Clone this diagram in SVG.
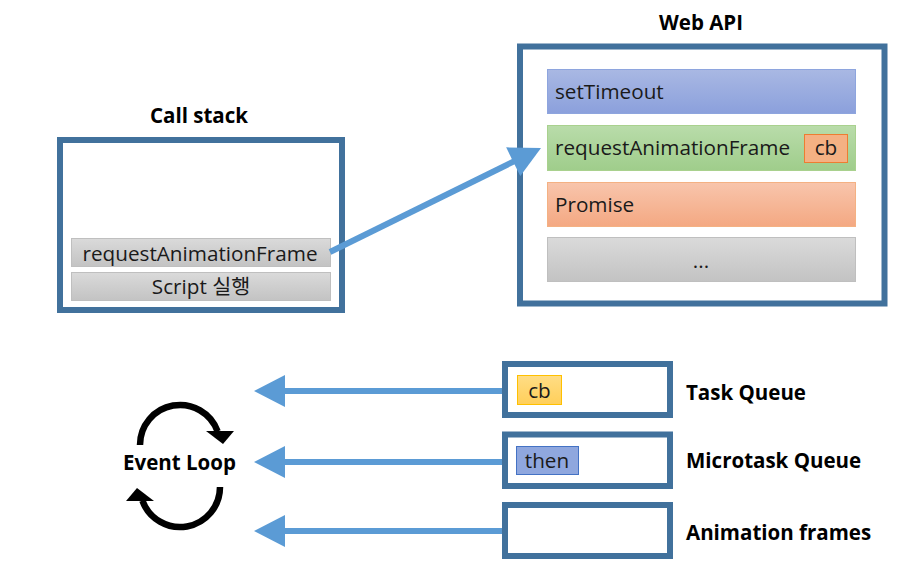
<svg xmlns="http://www.w3.org/2000/svg" width="910" height="581" viewBox="0 0 910 581">
<style>
.frame{fill:#fff;stroke:#41719C;stroke-width:6}
.t{font-family:"Open Sans","Noto Sans CJK KR",sans-serif;font-size:20.7px;fill:#1a1a1a}
.b{font-family:"Open Sans","Noto Sans CJK KR",sans-serif;font-size:20.5px;font-weight:bold;fill:#000}
.gray{fill:url(#gGray);stroke:#BFBFBF;stroke-width:1}
.conn{stroke:#5B9BD5;stroke-width:6;fill:none}
.loop{stroke:#000;stroke-width:6.5;fill:none}
</style>
<defs>
<linearGradient id="gGray" x1="0" y1="0" x2="0" y2="1"><stop offset="0" stop-color="#DADADA"/><stop offset="1" stop-color="#C3C3C3"/></linearGradient>
<linearGradient id="gBlue" x1="0" y1="0" x2="0" y2="1"><stop offset="0" stop-color="#A9B8E3"/><stop offset="1" stop-color="#8BA0DC"/></linearGradient>
<linearGradient id="gGreen" x1="0" y1="0" x2="0" y2="1"><stop offset="0" stop-color="#B9DCAA"/><stop offset="1" stop-color="#9FCD8B"/></linearGradient>
<linearGradient id="gOrange" x1="0" y1="0" x2="0" y2="1"><stop offset="0" stop-color="#F8C5AC"/><stop offset="1" stop-color="#F4A882"/></linearGradient>
<linearGradient id="gYellow" x1="0" y1="0" x2="0" y2="1"><stop offset="0" stop-color="#FFDD85"/><stop offset="1" stop-color="#FFCF5A"/></linearGradient>
<marker id="ah" markerUnits="userSpaceOnUse" markerWidth="32" markerHeight="32" viewBox="0 0 31 32" refX="5" refY="16" orient="auto">
<path d="M0,0 L31,16 L0,32 z" fill="#5B9BD5"/>
</marker>
</defs>

<g id="callstack">
<text class="b" x="199" y="123" text-anchor="middle">Call stack</text>
<rect class="frame" x="60" y="140" width="282" height="170"/>
<rect class="gray" x="71.5" y="238.5" width="259" height="28"/>
<text class="t" x="200" y="261" text-anchor="middle">requestAnimationFrame</text>
<rect class="gray" x="71.5" y="272.5" width="259" height="28"/>
<text class="t" x="201" y="294" text-anchor="middle">Script 실행</text>
</g>

<g id="webapi">
<text class="b" x="701" y="30" text-anchor="middle">Web API</text>
<rect class="frame" x="520" y="46.5" width="364.5" height="257"/>
<rect x="547.5" y="69.5" width="308" height="44" fill="url(#gBlue)" stroke="#8EA5DE"/>
<text class="t" x="555" y="99">setTimeout</text>
<rect x="547.5" y="125.5" width="308" height="45" fill="url(#gGreen)" stroke="#A9D18E"/>
<text class="t" x="555" y="155">requestAnimationFrame</text>
<rect x="804.5" y="134.5" width="43" height="28" fill="#F4B183" stroke="#ED7D31"/>
<text class="t" x="826" y="155" text-anchor="middle">cb</text>
<rect x="547.5" y="182.5" width="308" height="44" fill="url(#gOrange)" stroke="#F4B183"/>
<text class="t" x="555" y="212">Promise</text>
<rect class="gray" x="547.5" y="237.5" width="308" height="44"/>
<text class="t" x="701" y="268" text-anchor="middle">...</text>
</g>

<g id="taskqueue">
<rect class="frame" x="505" y="364" width="165" height="51"/>
<rect x="517.5" y="375.5" width="44" height="29" fill="url(#gYellow)" stroke="#FFC000"/>
<text class="t" x="539.5" y="398" text-anchor="middle">cb</text>
<text class="b" x="686" y="400">Task Queue</text>
</g>

<g id="microtaskqueue">
<rect class="frame" x="505" y="434.5" width="165" height="51.5"/>
<rect x="516.5" y="446.5" width="62" height="28" fill="#8FA7DE" stroke="#4472C4"/>
<text class="t" x="547" y="468" text-anchor="middle">then</text>
<text class="b" x="686" y="468">Microtask Queue</text>
</g>

<g id="animationframes">
<rect class="frame" x="505" y="505" width="165" height="51"/>
<text class="b" x="686" y="540">Animation frames</text>
</g>

<g id="eventloop">
<text class="b" x="179.5" y="470" text-anchor="middle">Event Loop</text>
<path class="loop" d="M140,445 A40,40 0 0 1 217.6,431.3"/>
<polygon points="206,431 234,431 223,444" fill="#000"/>
<path class="loop" d="M220,487 A40,40 0 0 1 142.4,500.7"/>
<polygon points="154,501 126,501 137,488" fill="#000"/>
</g>

<g id="connectors">
<line class="conn" x1="330" y1="252" x2="517.7" y2="159.5" marker-end="url(#ah)"/>
<line class="conn" x1="502" y1="391" x2="280" y2="391" marker-end="url(#ah)"/>
<line class="conn" x1="502" y1="462" x2="280" y2="462" marker-end="url(#ah)"/>
<line class="conn" x1="502" y1="531" x2="280" y2="531" marker-end="url(#ah)"/>
</g>
</svg>
